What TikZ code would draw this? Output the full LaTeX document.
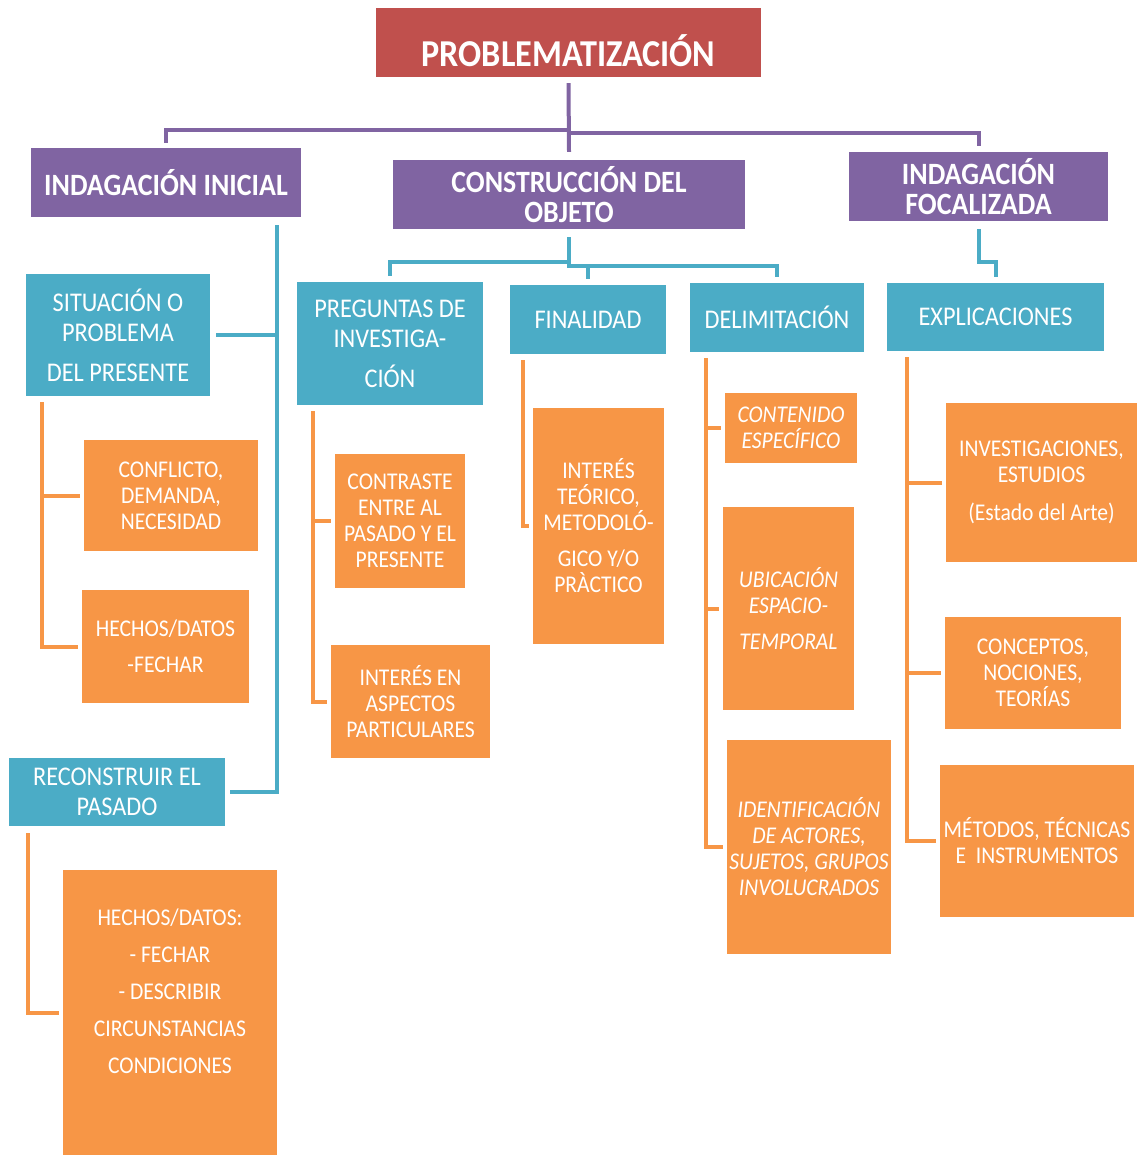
\documentclass[tikz,border=0pt]{standalone}
\usepackage{fontspec}
\setmainfont{Carlito}[FakeStretch=0.9]

\definecolor{probred}{HTML}{C0504D}
\definecolor{headpurple}{HTML}{8064A2}
\definecolor{subblue}{HTML}{4BACC6}
\definecolor{leaforange}{HTML}{F79646}

\begin{document}
\begin{tikzpicture}[x=1pt,y=-1pt,
    every node/.style={inner sep=0pt, align=center, text=white},
    sz/.style 2 args={minimum width=#1pt, minimum height=#2pt},
    titlebox/.style={fill=probred, font=\fontsize{38}{42}\selectfont\bfseries},
    headbox/.style={fill=headpurple, font=\fontsize{31}{30}\selectfont\bfseries},
    subbox/.style={fill=subblue, font=\fontsize{27}{30}\selectfont},
    leafbox/.style={fill=leaforange, font=\fontsize{24}{26}\selectfont},
    leafit/.style={leafbox, font=\fontsize{24}{26}\selectfont\itshape},
    pline/.style={draw=headpurple, line width=4pt},
    bline/.style={draw=subblue, line width=4pt},
    oline/.style={draw=leaforange, line width=4pt}]
        \useasboundingbox (0,0) rectangle (1137,1155);

        % top and the three headings
        \node[titlebox, sz={385}{69}] (prob) at (568.5,42.5) {\raisebox{-8pt}[\height][\depth]{PROBLEMATIZACIÓN}};
        \node[headbox, sz={270}{69}] (ini) at (166,182.5) {INDAGACIÓN INICIAL};
        \node[headbox, sz={352}{69}] (cons) at (569,194.5) {CONSTRUCCIÓN DEL\\OBJETO};
        \node[headbox, sz={259}{69}] (foc) at (978.5,186.5) {INDAGACIÓN\\FOCALIZADA};

        % blue boxes
        \node[subbox, sz={184}{122}] (sit) at (118,335) {SITUACIÓN O\\PROBLEMA\\[10pt]DEL PRESENTE};
        \node[subbox, sz={186}{123}] (preg) at (390,343.5) {PREGUNTAS DE\\INVESTIGA-\\[10pt]CIÓN};
        \node[subbox, sz={156}{69}] (fin) at (588,319.5) {FINALIDAD};
        \node[subbox, sz={174}{69}] (del) at (777,317.5) {DELIMITACIÓN};
        \node[subbox, sz={217}{68}] (expl) at (995.5,317) {EXPLICACIONES};
        \node[subbox, sz={216}{68}] (rec) at (117,792) {RECONSTRUIR EL\\PASADO};

        % orange boxes
        \node[leafbox, sz={174}{111}] (conf) at (171,495.5) {CONFLICTO,\\DEMANDA,\\NECESIDAD};
        \node[leafbox, sz={167}{113}] (hd1) at (165.5,646.5) {HECHOS/DATOS\\[10pt]-FECHAR};
        \node[leafbox, sz={130}{134}] (contr) at (400,521) {CONTRASTE\\ENTRE AL\\PASADO Y EL\\PRESENTE};
        \node[leafbox, sz={159}{113}] (intp) at (410.5,701.5) {INTERÉS EN\\ASPECTOS\\PARTICULARES};
        \node[leafbox, sz={131}{236}] (intt) at (598.5,526) {INTERÉS\\TEÓRICO,\\METODOLÓ-\\[10pt]GICO Y/O\\PRÀCTICO};
        \node[leafit, sz={132}{70}] (cont) at (791,428) {CONTENIDO\\ESPECÍFICO};
        \node[leafit, sz={131}{203}] (ubic) at (788.5,608.5) {UBICACIÓN\\ESPACIO-\\[10pt]TEMPORAL};
        \node[leafit, sz={164}{214}] (iden) at (809,847) {IDENTIFICACIÓN\\DE ACTORES,\\SUJETOS, GRUPOS\\INVOLUCRADOS};
        \node[leafbox, sz={191}{159}] (inv) at (1041.5,482.5) {INVESTIGACIONES,\\ESTUDIOS\\[12pt](Estado del Arte)};
        \node[leafbox, sz={176}{112}] (conc) at (1033,673) {CONCEPTOS,\\NOCIONES,\\TEORÍAS};
        \node[leafbox, sz={194}{152}] (met) at (1037,841) {MÉTODOS, TÉCNICAS\\E~~INSTRUMENTOS};
        \node[leafbox, sz={214}{285}] (hd2) at (170,1012.5) {HECHOS/DATOS:\\[11pt]- FECHAR\\[11pt]- DESCRIBIR\\[11pt]CIRCUNSTANCIAS\\[11pt]CONDICIONES\\[16pt]\mbox{}};

        % purple connectors
        \draw[pline] ([yshift=-6pt]prob.south) -- ([yshift=8pt]cons.north);
        \draw[pline] ([yshift=-53pt]prob.south) -| ([yshift=5pt]ini.north);
        \draw[pline] ([yshift=-56pt]prob.south) -| ([yshift=6pt]foc.north);

        % blue connectors
        \coordinate (iniT) at ([xshift=-24pt,yshift=-8pt]ini.south east);
        \draw[bline] (iniT) |- ([xshift=5pt]rec.east);
        \draw[bline] ([xshift=6pt]sit.east) -- (sit.east -| iniT);
        \draw[bline] ([yshift=-8pt]cons.south) -- ++(0,25) -| ([yshift=6pt]preg.north);
        \draw[bline] ([yshift=-8pt]cons.south) |- ([yshift=17pt]del.north) -- ([yshift=6pt]del.north);
        \draw[bline] ([yshift=19pt]fin.north) -- ([yshift=6pt]fin.north);
        \draw[bline] ([yshift=-8pt]foc.south) |- ([yshift=21pt]expl.north) -- ([yshift=6pt]expl.north);

        % orange connectors
        \coordinate (sitT) at ([xshift=16pt,yshift=-6pt]sit.south west);
        \coordinate (pregT) at ([xshift=16pt,yshift=-6pt]preg.south west);
        \coordinate (finT) at ([xshift=13pt,yshift=-6pt]fin.south west);
        \coordinate (delT) at ([xshift=16pt,yshift=-6pt]del.south west);
        \coordinate (explT) at ([xshift=20pt,yshift=-6pt]expl.south west);
        \coordinate (recT) at ([xshift=19pt,yshift=-7pt]rec.south west);
        \foreach \trunk/\leaf in {sitT/conf, sitT/hd1, pregT/contr, pregT/intp, finT/intt,
                delT/cont, delT/ubic, delT/iden, explT/inv, explT/conc, explT/met, recT/hd2} {
            \draw[oline] (\trunk) |- ([xshift=-4pt]\leaf.west);
        }
    \end{tikzpicture}
\end{document}
